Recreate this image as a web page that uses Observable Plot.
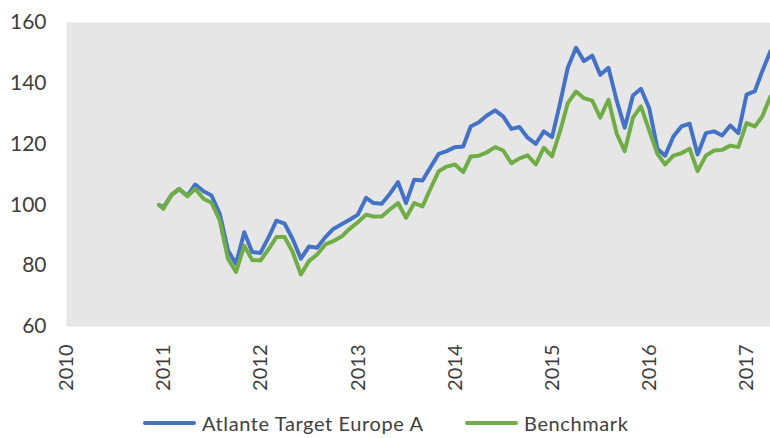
<!DOCTYPE html>
<html>
<head>
<meta charset="utf-8">
<script src="https://cdn.jsdelivr.net/npm/d3@7"></script>
<script src="https://cdn.jsdelivr.net/npm/@observablehq/plot@0.6"></script>
<style>
  html, body { margin: 0; padding: 0; background: #fff; }
  body { width: 770px; height: 438px; overflow: hidden; position: relative; font-family: Lato, "Open Sans", sans-serif; }
  .item { position: absolute; top: 411px; display: flex; align-items: center; font-size: 20px; line-height: 24px; letter-spacing: 0.6px; color: #404040; white-space: nowrap; }
  .sw { width: 53px; height: 4px; margin-right: 6px; border-radius: 2px; }
</style>
</head>
<body>
<div id="chart"></div>
<div id="legend"></div>
<script>
const seriesNames = ["Atlante Target Europe A", "Benchmark"];
const seriesColors = ["#4472C4", "#70AD47"];
const startDate = "2010-12-15";
const yTicks = [60, 80, 100, 120, 140, 160];
const xTickYears = [2010, 2011, 2012, 2013, 2014, 2015, 2016, 2017];

// start value, then month-end values Dec 2010 .. Apr 2017
const fund = [
  100, 99.2,
  103.3, 105.2, 103.0, 106.7, 104.5, 103.1, 97.1, 85.0, 80.6, 91.0, 84.5, 84.2,
  89.4, 94.8, 93.8, 88.8, 82.3, 86.3, 85.9, 89.4, 92.1, 93.6, 95.1, 96.8,
  102.3, 100.6, 100.4, 103.6, 107.5, 100.6, 108.3, 108.0, 112.4, 116.8, 117.7, 119.0,
  119.2, 125.8, 127.2, 129.4, 131.1, 129.1, 125.0, 125.6, 122.1, 120.1, 124.2, 122.3,
  133.8, 145.1, 151.7, 147.3, 149.1, 142.8, 145.1, 134.3, 125.4, 136.0, 138.2, 131.9,
  118.5, 116.2, 122.5, 125.8, 126.7, 116.6, 123.6, 124.2, 122.8, 126.1, 123.6, 136.3,
  137.4, 144.0, 150.6, 153.5
];
const benchmark = [
  100, 98.7,
  103.4, 105.3, 102.8, 105.3, 102.0, 100.7, 94.9, 82.3, 77.9, 86.6, 81.9, 81.7,
  85.5, 89.4, 89.4, 84.5, 77.1, 81.5, 83.7, 87.0, 88.1, 89.6, 92.1, 94.3,
  96.8, 96.2, 96.2, 98.5, 100.6, 95.8, 100.6, 99.5, 105.3, 111.1, 112.6, 113.3,
  110.8, 115.9, 116.2, 117.3, 119.0, 117.9, 113.7, 115.3, 116.3, 113.3, 118.8, 116.0,
  124.5, 133.5, 137.3, 135.1, 134.3, 128.7, 134.6, 123.4, 117.7, 128.7, 132.4, 124.5,
  116.8, 113.3, 116.2, 117.0, 118.5, 111.1, 116.2, 117.9, 118.1, 119.5, 119.0, 126.9,
  125.8, 129.1, 135.7, 138.0
];

// dates: launch date then month-ends
const monthEnds = d3.utcMonth.range(new Date(Date.UTC(2011, 0, 1)), new Date(Date.UTC(2017, 4, 1)))
  .map(d => new Date(+d - 864e5));
const dates = [new Date(startDate + "T00:00:00Z"), ...monthEnds];

const rows = [];
[fund, benchmark].forEach((vals, s) => {
  vals.forEach((v, i) => rows.push({date: dates[i], value: v, series: seriesNames[s]}));
});

const xTicks = xTickYears.map(y => new Date(Date.UTC(y, 0, 1)));

const chart = Plot.plot({
  width: 770,
  height: 400,
  marginTop: 22,
  marginLeft: 66,
  marginRight: 0,
  marginBottom: 74,
  style: {fontFamily: "Lato, 'Open Sans', sans-serif", color: "#404040", background: "#fff"},
  x: {
    type: "utc",
    domain: [new Date(Date.UTC(2010, 0, 1)), dates[dates.length - 1]],
    label: null
  },
  y: {domain: [60, 160], label: null},
  color: {domain: seriesNames, range: seriesColors},
  marks: [
    Plot.frame({fill: "#e7e6e6", stroke: null}),
    Plot.axisY({ticks: yTicks, tickSize: 0, tickPadding: 20, fontSize: 21, label: null}),
    Plot.axisX({ticks: xTicks, tickFormat: d => String(d.getUTCFullYear()), tickSize: 0, tickPadding: 18, tickRotate: -90, fontSize: 20, label: null}),
    Plot.line(rows, {x: "date", y: "value", z: "series", stroke: "series", strokeWidth: 4, strokeLinejoin: "round", strokeLinecap: "round"})
  ]
});
document.getElementById("chart").appendChild(chart);

const legend = document.getElementById("legend");
const legendLeft = [143, 465];
seriesNames.forEach((name, i) => {
  const item = document.createElement("div");
  item.className = "item";
  item.style.left = legendLeft[i] + "px";
  const sw = document.createElement("div");
  sw.className = "sw";
  sw.style.background = seriesColors[i];
  const t = document.createElement("span");
  t.textContent = name;
  item.appendChild(sw);
  item.appendChild(t);
  legend.appendChild(item);
});
</script>
</body>
</html>
